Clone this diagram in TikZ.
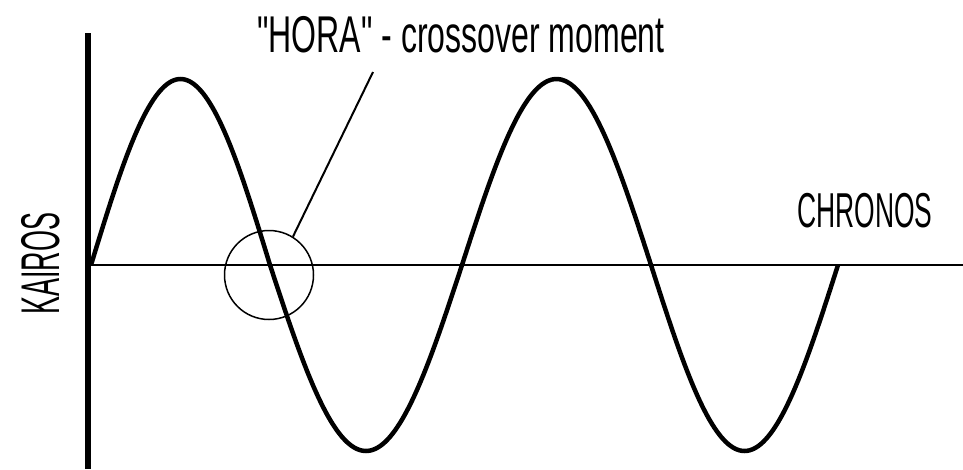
\documentclass[tikz,border=0pt]{standalone}
\usepackage{fontspec}
\usepackage{graphicx}
\setmainfont{Liberation Sans}
\begin{document}
\begin{tikzpicture}[x=1pt,y=-1pt,
        txt/.style={inner sep=0pt,anchor=base west}]
        \useasboundingbox (0,0) rectangle (963,469);
        \draw[line width=6pt] (88,33)--(88,469);
        \draw[line width=2.5pt] (88,265)--(963,265);
        \foreach \a/\b/\s in {91/270/1,270/462/-1,462/651/1,651/838/-1}
            \draw[line width=4.5pt,domain=0:1,samples=41,smooth,variable=\t]
                plot ({\a+(\b-\a)*\t},{265-\s*186*sin(180*\t)});
        \node[draw,circle,line width=1.5pt,minimum size=89pt,inner sep=0pt] (hora) at (269,275) {};
        \coordinate (tip) at (373,72);
        \draw[line width=2pt] (hora.58)--(tip);
        \node[txt,font=\fontsize{51.7}{60}\selectfont] (title) at (257,52)
            {\scalebox{0.62}[1]{\textquotedbl HORA\textquotedbl{} - crossover moment}};
        \node[txt,font=\fontsize{49}{56}\selectfont] (chronos) at (797,227)
            {\scalebox{0.54}[1]{CHRONOS}};
        \node[txt,rotate=90,font=\fontsize{54.5}{60}\selectfont] (kairos) at (59,315)
            {\scalebox{0.495}[1]{KAIROS}};
\end{tikzpicture}
\end{document}
